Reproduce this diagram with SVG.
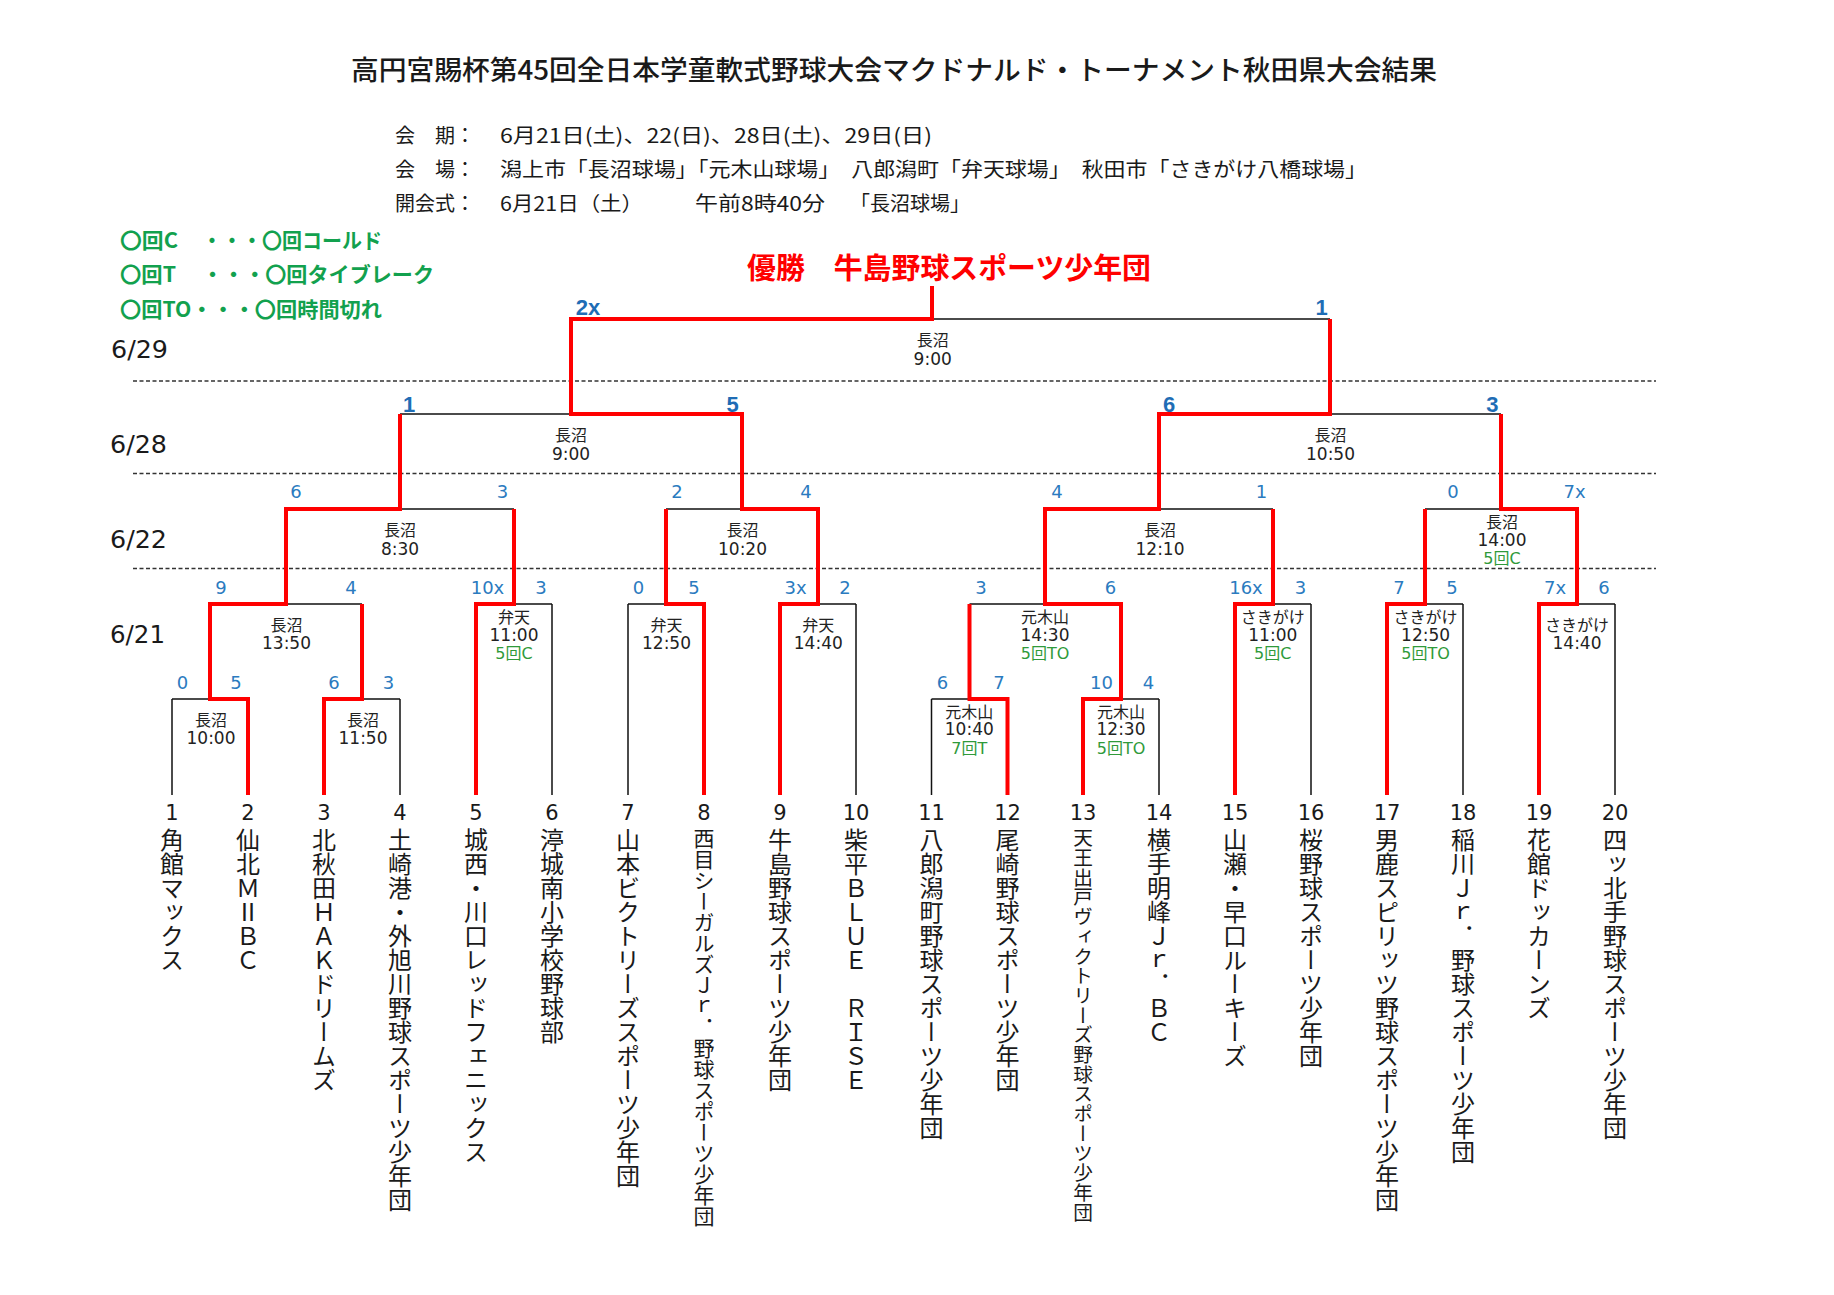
<svg xmlns="http://www.w3.org/2000/svg" width="1834" height="1295" viewBox="0 0 1834 1295">
<style>
.jp{font-family:"Noto Sans CJK JP","Noto Sans CJK SC",sans-serif;fill:#1a1a1a}
.ttl{font-size:27px;font-weight:500}
.inf{font-size:20px}
.leg{font-size:21px;font-weight:700;fill:#12a14e}
.win{font-size:29px;font-weight:700;fill:#ff0000}
.dt{font-family:"DejaVu Sans","Noto Sans CJK JP",sans-serif;font-size:24px;fill:#1a1a1a}
.v{font-family:"DejaVu Sans","Noto Sans CJK JP",sans-serif;font-size:16px;fill:#222;text-anchor:middle}
.tm{font-size:17px}
.g{fill:#2f9a3a}
.s{font-family:"DejaVu Sans",sans-serif;font-size:18px;fill:#2b7bbf;text-anchor:middle}
.sb{font-family:"Liberation Sans",Arial,sans-serif;font-size:22px;font-weight:700;fill:#1f6db5;text-anchor:middle}
.no{font-family:"DejaVu Sans",sans-serif;font-size:21px;fill:#1a1a1a;text-anchor:middle}
.nm{font-family:"Noto Sans CJK JP",sans-serif;font-size:24px;fill:#1a1a1a;writing-mode:vertical-rl;text-orientation:mixed}
.blk{fill:none;stroke:#111;stroke-width:1.5}
.red{fill:none;stroke:#ff0000;stroke-width:4;stroke-linejoin:miter}
.dash{fill:none;stroke:#333;stroke-width:1.3;stroke-dasharray:4 2.5}
</style>
<rect width="1834" height="1295" fill="#ffffff"/>

<g id="header">
<text class="jp ttl" x="351" y="80" textLength="1086" lengthAdjust="spacingAndGlyphs">高円宮賜杯第45回全日本学童軟式野球大会マクドナルド・トーナメント秋田県大会結果</text>
<text class="jp inf" x="395" y="143">会　期：</text>
<text class="jp inf" x="500" y="143" textLength="432" lengthAdjust="spacingAndGlyphs">6月21日(土)、22(日)、28日(土)、29日(日)</text>
<text class="jp inf" x="395" y="177">会　場：</text>
<text class="jp inf" x="500" y="177" textLength="867" lengthAdjust="spacingAndGlyphs">潟上市「長沼球場」「元木山球場」　八郎潟町「弁天球場」　秋田市「さきがけ八橋球場」</text>
<text class="jp inf" x="395" y="211">開会式：</text>
<text class="jp inf" x="500" y="211" textLength="143" lengthAdjust="spacingAndGlyphs">6月21日（土）</text>
<text class="jp inf" x="695" y="211" textLength="130" lengthAdjust="spacingAndGlyphs">午前8時40分</text>
<text class="jp inf" x="850" y="211">「長沼球場」</text>
</g>

<g id="legend">
<text class="jp leg" x="120" y="247.5" textLength="58" lengthAdjust="spacingAndGlyphs">〇回C</text>
<text class="jp leg" x="202" y="247.5" textLength="180" lengthAdjust="spacingAndGlyphs">・・・〇回コールド</text>
<text class="jp leg" x="120" y="282" textLength="56" lengthAdjust="spacingAndGlyphs">〇回T</text>
<text class="jp leg" x="202" y="282" textLength="232" lengthAdjust="spacingAndGlyphs">・・・〇回タイブレーク</text>
<text class="jp leg" x="120" y="316.5" textLength="262" lengthAdjust="spacingAndGlyphs">〇回TO・・・〇回時間切れ</text>
</g>

<g id="winner">
<text class="jp win" x="747" y="278.5" textLength="404" lengthAdjust="spacingAndGlyphs">優勝　牛島野球スポーツ少年団</text>
</g>

<g id="dates">
<text class="dt" x="111" y="358" textLength="57" lengthAdjust="spacingAndGlyphs">6/29</text>
<text class="dt" x="110" y="453" textLength="57" lengthAdjust="spacingAndGlyphs">6/28</text>
<text class="dt" x="110" y="548" textLength="57" lengthAdjust="spacingAndGlyphs">6/22</text>
<text class="dt" x="110" y="643" textLength="55" lengthAdjust="spacingAndGlyphs">6/21</text>
<path class="dash" d="M133,381H1656M133,473.5H1656M133,568.5H1656"/>
</g>

<g id="connectors">
<path class="blk" d="M172,795V699M248,795V699M324,795V699M400,795V699M476,795V604M552,795V604M628,795V604M704,795V604M780,795V604M856,795V604M931.5,795V699M1007.5,795V699M1083,795V699M1159,795V699M1235,795V604M1311,795V604M1387,795V604M1463,795V604M1539,795V604M1615,795V604"/>
<path class="blk" d="M172,699H248M324,699H400M931.5,699H1007.5M1083,699H1159M210,604H362M476,604H552M628,604H704M780,604H856M969.5,604H1121M1235,604H1311M1387,604H1463M1539,604H1615M286,509H514M666,509H818M1045,509H1273M1425,509H1577M400,414H742M1159,414H1501M571,319H1330"/>
<path class="red" d="M248,795V699H210V604H286V509H400V414"/>
<path class="red" d="M324,795V699H362V604"/>
<path class="red" d="M476,795V604H514V509"/>
<path class="red" d="M704,795V604H666V509"/>
<path class="red" d="M780,795V604H818V509H742V414H571V319H932V286"/>
<path class="red" d="M1007.5,795V699H969.5V604"/>
<path class="red" d="M1083,795V699H1121V604H1045V509H1159V414H1330V319"/>
<path class="red" d="M1235,795V604H1273V509"/>
<path class="red" d="M1387,795V604H1425V509"/>
<path class="red" d="M1539,795V604H1577V509H1501V414"/>
</g>

<g id="match-final">
<text class="v" x="932.7" y="346">長沼</text>
<text class="v tm" x="932.7" y="365">9:00</text>
<text class="sb" x="588" y="315">2x</text>
<text class="sb" x="1321.5" y="315">1</text>
</g>
<g id="match-sf1">
<text class="v" x="571" y="441">長沼</text>
<text class="v tm" x="571" y="460">9:00</text>
<text class="sb" x="409" y="412">1</text>
<text class="sb" x="732.5" y="412">5</text>
</g>
<g id="match-sf2">
<text class="v" x="1330.5" y="441">長沼</text>
<text class="v tm" x="1330.5" y="460">10:50</text>
<text class="sb" x="1169" y="412">6</text>
<text class="sb" x="1492.4" y="412">3</text>
</g>
<g id="match-qf1">
<text class="v" x="400" y="536">長沼</text>
<text class="v tm" x="400" y="555">8:30</text>
<text class="s" x="296" y="498">6</text>
<text class="s" x="502.5" y="498">3</text>
</g>
<g id="match-qf2">
<text class="v" x="742.5" y="536">長沼</text>
<text class="v tm" x="742.5" y="555">10:20</text>
<text class="s" x="677" y="498">2</text>
<text class="s" x="806" y="498">4</text>
</g>
<g id="match-qf3">
<text class="v" x="1160" y="536">長沼</text>
<text class="v tm" x="1160" y="555">12:10</text>
<text class="s" x="1057" y="498">4</text>
<text class="s" x="1261.5" y="498">1</text>
</g>
<g id="match-qf4">
<text class="v" x="1502" y="527.7">長沼</text>
<text class="v tm" x="1502" y="546">14:00</text>
<text class="v g" x="1502" y="564">5回C</text>
<text class="s" x="1453" y="498">0</text>
<text class="s" x="1574.5" y="498">7x</text>
</g>
<g id="match-r2a">
<text class="v" x="286.5" y="631">長沼</text>
<text class="v tm" x="286.5" y="649">13:50</text>
<text class="s" x="221" y="593.5">9</text>
<text class="s" x="351" y="593.5">4</text>
</g>
<g id="match-r2b">
<text class="v" x="514" y="622.5">弁天</text>
<text class="v tm" x="514" y="641">11:00</text>
<text class="v g" x="514" y="659">5回C</text>
<text class="s" x="487.5" y="593.5">10x</text>
<text class="s" x="541" y="593.5">3</text>
</g>
<g id="match-r2c">
<text class="v" x="666.5" y="631">弁天</text>
<text class="v tm" x="666.5" y="649">12:50</text>
<text class="s" x="638.5" y="593.5">0</text>
<text class="s" x="694" y="593.5">5</text>
</g>
<g id="match-r2d">
<text class="v" x="818.3" y="631">弁天</text>
<text class="v tm" x="818.3" y="649">14:40</text>
<text class="s" x="795.5" y="593.5">3x</text>
<text class="s" x="845" y="593.5">2</text>
</g>
<g id="match-r2e">
<text class="v" x="1045" y="622.5">元木山</text>
<text class="v tm" x="1045" y="641">14:30</text>
<text class="v g" x="1045" y="659">5回TO</text>
<text class="s" x="981" y="593.5">3</text>
<text class="s" x="1110.5" y="593.5">6</text>
</g>
<g id="match-r2f">
<text class="v" x="1272.8" y="622.5">さきがけ</text>
<text class="v tm" x="1272.8" y="641">11:00</text>
<text class="v g" x="1272.8" y="659">5回C</text>
<text class="s" x="1246" y="593.5">16x</text>
<text class="s" x="1300.5" y="593.5">3</text>
</g>
<g id="match-r2g">
<text class="v" x="1425.6" y="622.5">さきがけ</text>
<text class="v tm" x="1425.6" y="641">12:50</text>
<text class="v g" x="1425.6" y="659">5回TO</text>
<text class="s" x="1399" y="593.5">7</text>
<text class="s" x="1452" y="593.5">5</text>
</g>
<g id="match-r2h">
<text class="v" x="1577" y="631">さきがけ</text>
<text class="v tm" x="1577" y="649">14:40</text>
<text class="s" x="1555" y="593.5">7x</text>
<text class="s" x="1604" y="593.5">6</text>
</g>
<g id="match-r1a">
<text class="v" x="211" y="726">長沼</text>
<text class="v tm" x="211" y="744">10:00</text>
<text class="s" x="182.5" y="688.5">0</text>
<text class="s" x="236" y="688.5">5</text>
</g>
<g id="match-r1b">
<text class="v" x="363" y="726">長沼</text>
<text class="v tm" x="363" y="744">11:50</text>
<text class="s" x="334" y="688.5">6</text>
<text class="s" x="388.5" y="688.5">3</text>
</g>
<g id="match-r1c">
<text class="v" x="969.3" y="717.7">元木山</text>
<text class="v tm" x="969.3" y="735.3">10:40</text>
<text class="v g" x="969.3" y="753.7">7回T</text>
<text class="s" x="942.5" y="688.5">6</text>
<text class="s" x="999" y="688.5">7</text>
</g>
<g id="match-r1d">
<text class="v" x="1121" y="717.7">元木山</text>
<text class="v tm" x="1121" y="735.3">12:30</text>
<text class="v g" x="1121" y="753.7">5回TO</text>
<text class="s" x="1101.5" y="688.5">10</text>
<text class="s" x="1148.5" y="688.5">4</text>
</g>

<g id="team1"><text class="no" x="172" y="820">1</text><text class="nm" x="172" y="828">角館マックス</text></g>
<g id="team2"><text class="no" x="248" y="820">2</text><text class="nm" x="248" y="828">仙北ＭⅡＢＣ</text></g>
<g id="team3"><text class="no" x="324" y="820">3</text><text class="nm" x="324" y="828">北秋田ＨＡＫドリームズ</text></g>
<g id="team4"><text class="no" x="400" y="820">4</text><text class="nm" x="400" y="828">土崎港・外旭川野球スポーツ少年団</text></g>
<g id="team5"><text class="no" x="476" y="820">5</text><text class="nm" x="476" y="828">城西・川口レッドフェニックス</text></g>
<g id="team6"><text class="no" x="552" y="820">6</text><text class="nm" x="552" y="828">渟城南小学校野球部</text></g>
<g id="team7"><text class="no" x="628" y="820">7</text><text class="nm" x="628" y="828">山本ビクトリーズスポーツ少年団</text></g>
<g id="team8"><text class="no" x="704" y="820">8</text><text class="nm" x="704" y="828" style="font-size:21px">西目シーガルズＪｒ．野球スポーツ少年団</text></g>
<g id="team9"><text class="no" x="780" y="820">9</text><text class="nm" x="780" y="828">牛島野球スポーツ少年団</text></g>
<g id="team10"><text class="no" x="856" y="820">10</text><text class="nm" x="856" y="828">柴平ＢＬＵＥ　ＲＩＳＥ</text></g>
<g id="team11"><text class="no" x="931.5" y="820">11</text><text class="nm" x="931.5" y="828">八郎潟町野球スポーツ少年団</text></g>
<g id="team12"><text class="no" x="1007.5" y="820">12</text><text class="nm" x="1007.5" y="828">尾崎野球スポーツ少年団</text></g>
<g id="team13"><text class="no" x="1083" y="820">13</text><text class="nm" x="1083" y="828" style="font-size:19.7px">天王出戸ヴィクトリーズ野球スポーツ少年団</text></g>
<g id="team14"><text class="no" x="1159" y="820">14</text><text class="nm" x="1159" y="828">横手明峰Ｊｒ．ＢＣ</text></g>
<g id="team15"><text class="no" x="1235" y="820">15</text><text class="nm" x="1235" y="828">山瀬・早口ルーキーズ</text></g>
<g id="team16"><text class="no" x="1311" y="820">16</text><text class="nm" x="1311" y="828">桜野球スポーツ少年団</text></g>
<g id="team17"><text class="no" x="1387" y="820">17</text><text class="nm" x="1387" y="828">男鹿スピリッツ野球スポーツ少年団</text></g>
<g id="team18"><text class="no" x="1463" y="820">18</text><text class="nm" x="1463" y="828">稲川Ｊｒ．野球スポーツ少年団</text></g>
<g id="team19"><text class="no" x="1539" y="820">19</text><text class="nm" x="1539" y="828">花館ドッカーンズ</text></g>
<g id="team20"><text class="no" x="1615" y="820">20</text><text class="nm" x="1615" y="828">四ッ北手野球スポーツ少年団</text></g>
</svg>
